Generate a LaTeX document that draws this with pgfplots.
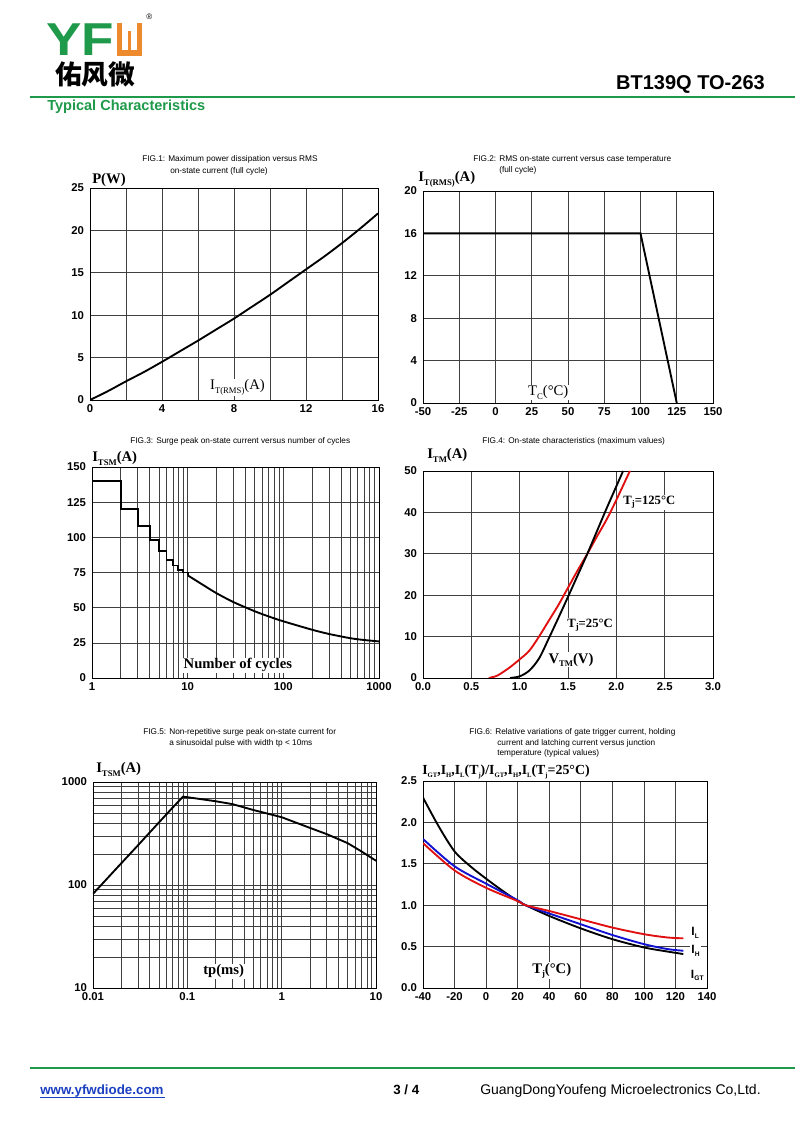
\documentclass[border=0pt]{standalone}
\usepackage{pgfplots}
\pgfplotsset{compat=1.18}
\usepackage{fontspec}
\setmainfont{Liberation Serif}
\newfontfamily\arial{Liberation Sans}
\newfontfamily\cjk{Noto Sans CJK SC}
\definecolor{yfgreen}{HTML}{1E9A4A}
\definecolor{yforange}{HTML}{EE8A2E}
\definecolor{linkblue}{HTML}{1A3FC0}
\definecolor{cred}{HTML}{E01010}
\definecolor{cblue}{HTML}{1010D0}
\newcommand{\sbs}[1]{\raisebox{-0.45ex}{\fontsize{6.5}{6.5}\selectfont #1}}
\newcommand{\ssbs}[1]{\raisebox{-0.45ex}{\fontsize{5}{5}\selectfont #1}}
\newcommand{\tf}{\arial\fontsize{6.2}{7}\selectfont}
\newcommand{\lf}{\bfseries\fontsize{11}{12}\selectfont}
\pgfplotsset{
  dsaxis/.style={
    scale only axis,
    anchor=south west,
    clip mode=individual,
    axis line style={black, line width=0.6pt},
    grid=both,
    major grid style={black!75, line width=0.45pt},
    minor grid style={black!75, line width=0.45pt},
    major tick length=0pt, minor tick length=0pt,
    tick label style={font=\arial\bfseries\fontsize{8.5}{9}\selectfont},
    yticklabel style={xshift=-1pt},
    every axis plot/.append style={line width=1.4pt, no marks},
  },
}
\tikzset{
  inlab/.style={anchor=base west, inner sep=0.8pt, fill=white},
  toplab/.style={anchor=base west, inner sep=0pt, font=\lf},
}
\begin{document}
\begin{tikzpicture}
\useasboundingbox (0,0) rectangle (600pt,847.5pt);
\fill[white] (0,0) rectangle (600pt,847.5pt);
\begin{scope}[shift={(0pt,847.5pt)}, x=0.75pt, y=-0.75pt]
% header
\node[anchor=base west, inner sep=0pt, text depth=0pt, text=yfgreen, font=\arial\bfseries\fontsize{34.6}{35}\selectfont] at (46,56) {\scalebox{1.15}[1]{YF}};
\fill[yforange] (117,23) rectangle (142,56);
\fill[white] (122,23) rectangle (137,50);
\fill[yforange] (128,31) rectangle (131,50);
\node[anchor=base west, inner sep=0pt, font=\arial\fontsize{6}{6}\selectfont] at (146,20) {\textregistered};
\node[anchor=base west, inner sep=0pt, text height=13pt, text depth=0pt, font=\cjk\bfseries\fontsize{20}{20}\selectfont] at (55,85) {佑风微};
\node[anchor=base east, inner sep=0pt, font=\arial\bfseries\fontsize{15}{16}\selectfont] at (765,90) {BT139Q TO-263};
\draw[yfgreen, line width=1.8pt] (30,97) -- (795,97);
\node[anchor=base west, inner sep=0pt, text=yfgreen, font=\arial\bfseries\fontsize{10.9}{12}\selectfont] at (47,111) {Typical Characteristics};
% footer
\draw[yfgreen, line width=1.8pt] (30,1068) -- (795,1068);
\node[anchor=base west, inner sep=0pt, text=linkblue, font=\arial\bfseries\fontsize{10}{12}\selectfont] at (40,1094) {www.yfwdiode.com};
\draw[linkblue, line width=0.6pt] (40,1097) -- (165,1097);
\node[anchor=base west, inner sep=0pt, font=\arial\bfseries\fontsize{10}{12}\selectfont] at (393,1094) {3 / 4};
\node[anchor=base west, inner sep=0pt, font=\arial\fontsize{10.5}{12}\selectfont] at (480,1094) {GuangDongYoufeng Microelectronics Co,Ltd.};
% titles
\node[anchor=base west, inner sep=0pt, font=\tf] at (142,162) {FIG.1: Maximum power dissipation versus RMS};
\node[anchor=base west, inner sep=0pt, font=\tf] at (170,174) {on-state current (full cycle)};
\node[anchor=base west, inner sep=0pt, font=\tf] at (473,162) {FIG.2: RMS on-state current versus case temperature};
\node[anchor=base west, inner sep=0pt, font=\tf] at (499,173) {(full cycle)};
\node[anchor=base west, inner sep=0pt, font=\tf] at (130,444) {FIG.3: Surge peak on-state current versus number of cycles};
\node[anchor=base west, inner sep=0pt, font=\tf] at (482,444) {FIG.4: On-state characteristics (maximum values)};
\node[anchor=base west, inner sep=0pt, font=\tf] at (143,735) {FIG.5: Non-repetitive surge peak on-state current for};
\node[anchor=base west, inner sep=0pt, font=\tf] at (169,746) {a sinusoidal pulse with width tp < 10ms};
\node[anchor=base west, inner sep=0pt, font=\tf] at (469,735) {FIG.6: Relative variations of gate trigger current, holding};
\node[anchor=base west, inner sep=0pt, font=\tf] at (497,746) {current and latching current versus junction};
\node[anchor=base west, inner sep=0pt, font=\tf] at (497,756) {temperature (typical values)};
\end{scope}

% FIG 1
\begin{axis}[dsaxis, at={(67.5pt,547.5pt)}, width=216pt, height=159pt,
  xmin=0, xmax=16, ymin=0, ymax=25,
  xtick={0,4,8,12,16}, xticklabels={0,4,8,12,16}, minor xtick={2,6,10,14},
  ytick={0,5,10,15,20,25}, yticklabels={0,5,10,15,20,25}]
\addplot[black, smooth] coordinates {(0,0) (1,1.05) (2,2.2) (3,3.3) (4,4.5) (5,5.75) (6,7.0) (7,8.3) (8,9.6) (9,11.0) (10,12.4) (11,13.9) (12,15.4) (13,16.9) (14,18.5) (15,20.2) (16,22.0)};
\node[inlab, font=\fontsize{11}{12}\selectfont] at (axis cs:6.6,1.18) {I\sbs{T(RMS)}(A)};
\node[toplab, xshift=1.5pt, yshift=3pt] at (rel axis cs:0,1) {P(W)};
\end{axis}

% FIG 2
\begin{axis}[dsaxis, at={(317.25pt,545.25pt)}, width=217.5pt, height=159pt,
  xmin=-50, xmax=150, ymin=0, ymax=20,
  xtick={-50,-25,0,25,50,75,100,125,150}, xticklabels={-50,-25,0,25,50,75,100,125,150},
  ytick={0,4,8,12,16,20}, yticklabels={0,4,8,12,16,20}]
\addplot[black] coordinates {(-50,16) (100,16) (125,0)};
\node[inlab, font=\fontsize{11}{12}\selectfont] at (axis cs:21.6,0.66) {T\sbs{C}(°C)};
\node[toplab, xshift=-3.75pt, yshift=6.75pt] at (rel axis cs:0,1) {I\sbs{\bfseries T(RMS)}(A)};
\end{axis}

% FIG 3
\begin{axis}[dsaxis, at={(69pt,339pt)}, width=215.25pt, height=158.25pt,
  xmode=log, xmin=1, xmax=1000, ymin=0, ymax=150,
  xtick={1,10,100,1000}, xticklabels={1,10,100,1000},
  minor xtick={2,3,4,5,6,7,8,9,20,30,40,50,60,70,80,90,200,300,400,500,600,700,800,900},
  ytick={0,25,50,75,100,125,150}, yticklabels={0,25,50,75,100,125,150}]
\addplot[black, const plot] coordinates {(1,140) (2,120) (3,108) (4,98) (5,90) (6,84) (7,80) (8,77) (9,75) (10,73)};
\addplot[black, smooth] coordinates {(10,73) (15,65.5) (20,60.3) (30,54) (50,47.5) (70,43.8) (100,40.3) (200,34.3) (300,31.3) (500,28.3) (700,27) (1000,26)};
\node[inlab, font=\lf] at (axis cs:8.8,6.4) {Number of cycles};
\node[toplab, yshift=3.75pt] at (rel axis cs:0,1) {I\sbs{\bfseries TSM}(A)};
\end{axis}

% FIG 4
\begin{axis}[dsaxis, at={(317.25pt,339pt)}, width=217.5pt, height=155.25pt,
  xmin=0, xmax=3, ymin=0, ymax=50,
  xtick={0,0.5,1,1.5,2,2.5,3}, xticklabels={0.0,0.5,1.0,1.5,2.0,2.5,3.0},
  ytick={0,10,20,30,40,50}, yticklabels={0,10,20,30,40,50}]
\node[inlab, font=\lf] at (axis cs:1.285,3.6) {V\sbs{\bfseries TM}(V)};
\node[inlab, font=\bfseries\fontsize{9.5}{10}\selectfont] at (axis cs:2.06,42) {T\sbs{\bfseries j}=125°C};
\node[inlab, font=\bfseries\fontsize{9.5}{10}\selectfont] at (axis cs:1.48,12.3) {T\sbs{\bfseries j}=25°C};
\addplot[cred, smooth] coordinates {(0.68,0) (0.75,0.4) (0.8,1) (0.9,2.6) (1.0,4.5) (1.1,6.6) (1.2,10.0) (1.3,13.8) (1.4,17.6) (1.5,21.8) (1.6,26) (1.7,30) (1.8,34.2) (1.9,38.3) (2.0,43) (2.14,50)};
\addplot[black, smooth] coordinates {(0.9,0) (1.0,0.4) (1.1,1.8) (1.2,4.7) (1.3,9.5) (1.4,14.5) (1.5,19.6) (1.6,24.8) (1.7,30) (1.8,35.5) (1.9,41) (2.0,46.3) (2.07,50)};
\node[toplab, xshift=3pt, yshift=9pt] at (rel axis cs:0,1) {I\sbs{\bfseries TM}(A)};
\end{axis}

% FIG 5
\begin{axis}[dsaxis, at={(69.75pt,106.5pt)}, width=212.25pt, height=154.5pt,
  xmode=log, ymode=log, xmin=0.01, xmax=10, ymin=10, ymax=1000,
  xtick={0.01,0.1,1,10}, xticklabels={0.01,0.1,1,10},
  ytick={10,100,1000}, yticklabels={10,100,1000},
  minor xtick={0.02,0.03,0.04,0.05,0.06,0.07,0.08,0.09,0.2,0.3,0.4,0.5,0.6,0.7,0.8,0.9,2,3,4,5,6,7,8,9},
  minor ytick={20,30,40,50,60,70,80,90,200,300,400,500,600,700,800,900}]
\addplot[black] coordinates {(0.01,82) (0.02,163) (0.03,243) (0.05,405) (0.07,565) (0.09,720) (0.1,712) (0.2,650) (0.3,610) (0.5,535) (1,455) (2,358) (3,312) (5,255) (7,212) (10,172)};
\node[inlab, font=\lf] at (axis cs:0.143,13.4) {tp(ms)};
\node[toplab, xshift=2.25pt, yshift=6.75pt] at (rel axis cs:0,1) {I\sbs{\bfseries TSM}(A)};
\end{axis}

% FIG 6
\begin{axis}[dsaxis, at={(317.25pt,106.5pt)}, width=213pt, height=155.25pt,
  xmin=-40, xmax=140, ymin=0, ymax=2.5,
  xtick={-40,-20,0,20,40,60,80,100,120,140}, xticklabels={-40,-20,0,20,40,60,80,100,120,140},
  ytick={0,0.5,1,1.5,2,2.5}, yticklabels={0.0,0.5,1.0,1.5,2.0,2.5}]
\addplot[black, smooth] coordinates {(-40,2.30) (-30,1.95) (-20,1.65) (-10,1.47) (0,1.32) (10,1.18) (20,1.05) (25,1.0) (40,0.87) (60,0.72) (80,0.59) (100,0.49) (115,0.44) (125,0.41)};
\addplot[cblue, smooth] coordinates {(-40,1.80) (-20,1.47) (0,1.26) (20,1.06) (25,1.0) (40,0.90) (60,0.77) (80,0.64) (100,0.53) (115,0.47) (125,0.45)};
\addplot[cred, smooth] coordinates {(-40,1.75) (-20,1.42) (0,1.21) (20,1.05) (25,1.0) (40,0.93) (60,0.83) (80,0.73) (100,0.65) (115,0.61) (125,0.60)};
\node[inlab, font=\lf] at (axis cs:28.4,0.18) {T\sbs{\bfseries j}(°C)};
\node[inlab, font=\arial\bfseries\fontsize{9}{10}\selectfont] at (axis cs:129.3,0.63) {I\ssbs{\bfseries L}};
\node[inlab, font=\arial\bfseries\fontsize{9}{10}\selectfont] at (axis cs:129.3,0.42) {I\ssbs{\bfseries H}};
\node[inlab, font=\arial\bfseries\fontsize{9}{10}\selectfont] at (axis cs:129,0.12) {I\ssbs{\bfseries GT}};
\node[toplab, font=\bfseries\fontsize{10.4}{11}\selectfont, xshift=-0.75pt, yshift=4.5pt] at (rel axis cs:0,1) {I\ssbs{\bfseries GT},I\ssbs{\bfseries H},I\ssbs{\bfseries L}(T\ssbs{\bfseries j})/I\ssbs{\bfseries GT},I\ssbs{\bfseries H},I\ssbs{\bfseries L}(T\ssbs{\bfseries j}=25°C)};
\end{axis}
\end{tikzpicture}
\end{document}
